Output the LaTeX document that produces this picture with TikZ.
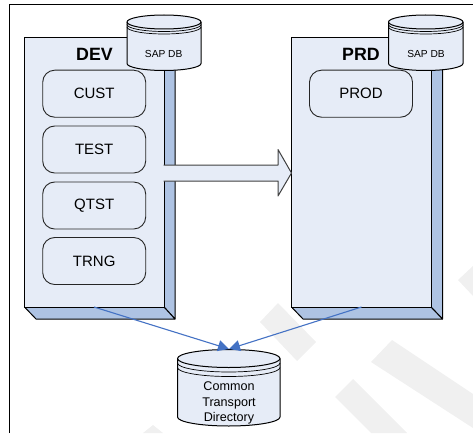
\documentclass[tikz,border=0pt]{standalone}
\usepackage{fontspec}
\setmainfont{Liberation Sans}
\definecolor{pale}{HTML}{E6ECF7}
\definecolor{side}{HTML}{AEC3E3}
\definecolor{link}{HTML}{4472C4}
\definecolor{wm}{HTML}{F0F0F0}
\usetikzlibrary{arrows.meta}
\tikzset{
  x=1pt,y=-1pt,
  edge/.style={draw=black,line width=1pt,line join=round},
  face/.style={edge,fill=pale},
  depth/.style={edge,fill=side},
  envbox/.style={draw=black!85,line width=0.9pt,fill=pale,rounded corners=12pt,minimum width=103pt,minimum height=47pt,inner sep=0pt,font=\fontsize{15}{17}\selectfont},
  title/.style={font=\bfseries\fontsize{17.8}{20}\selectfont,inner sep=0pt},
  dblabel/.style={font=\fontsize{10.2}{12}\selectfont,inner sep=0pt},
  translabel/.style={font=\fontsize{12.6}{15.5}\selectfont,align=center,inner sep=0pt},
  link/.style={draw=link,line width=1.1pt,-{Triangle[length=11pt,width=11pt]}},
}
% left, right, centre y of the top ellipse, y radius, bottom y, gap of the rims
\newcommand{\dbshape}[6]{%
  \path[face] (#1,#3) -- (#1,#5) arc[start angle=180,end angle=0,x radius={(#2-#1)/2},y radius=#4] -- (#2,#3) arc[start angle=0,end angle=-180,x radius={(#2-#1)/2},y radius=#4] -- cycle;
  \draw[edge] (#1,#3) arc[start angle=180,end angle=0,x radius={(#2-#1)/2},y radius=#4];
  \draw[edge,line width=0.7pt] (#1,#3+#6) arc[start angle=180,end angle=0,x radius={(#2-#1)/2},y radius=#4];
  \draw[edge,line width=0.7pt] (#1,#3+2*#6) arc[start angle=180,end angle=0,x radius={(#2-#1)/2},y radius=#4];
}
\begin{document}
\begin{tikzpicture}
\useasboundingbox (0,0) rectangle (473,433);
% watermark
\fill[wm] (260,322) -- (278,303) -- (316,342) -- (297,361) -- cycle;
\fill[wm] (371,362) -- (392,340) -- (473,394) -- (473,428) -- cycle;
\fill[wm] (335,397) -- (353,379) -- (407,433) -- (371,433) -- cycle;
\fill[wm] (458,280) -- (473,266) -- (473,296) -- cycle;
\fill[wm] (143,433) -- (153,425) -- (163,433) -- cycle;
% frame
\draw[black,line width=0.9pt] (9.5,433) -- (9.5,4.5) -- (473,4.5);
% DEV block
\path[depth] (164,38) -- (175,49) -- (175,319) -- (164,307) -- cycle;
\path[depth] (24.5,307) -- (164,307) -- (175,319) -- (36,319) -- cycle;
\path[face] (24.5,38) rectangle (164,307);
\coordinate (devout) at (94,307);
% PRD block
\path[depth] (431,38) -- (442.5,49) -- (442.5,319) -- (431,307) -- cycle;
\path[depth] (291.5,307) -- (431,307) -- (442.5,319) -- (303,319) -- cycle;
\path[face] (291.5,38) rectangle (431,307);
\coordinate (prdout) at (361.5,307);
% titles
\node[title] (dev) at (94.5,54) {DEV};
\node[title] (prd) at (361,54) {PRD};
% system boxes
\node[envbox] (cust) at (94.2,93.7) {CUST};
\node[envbox] (test) at (94.2,149.5) {TEST};
\node[envbox] (qtst) at (94.2,205.5) {QTST};
\node[envbox] (trng) at (94.2,261) {TRNG};
\node[envbox] (prod) at (361,93.7) {PROD};
% databases
\dbshape{127}{201}{22}{7}{63.5}{2.5}
\dbshape{388.5}{463}{22}{7}{63.5}{2.5}
\node[dblabel] (db1) at (163.7,54) {SAP DB};
\node[dblabel] (db2) at (426,54) {SAP DB};
% big arrow
\path[edge,fill=pale,draw=black!75] (163.5,165) -- (278,165) -- (278,149.5) -- (291.5,173) -- (278,196) -- (278,181) -- (163.5,181);
% transport directory
\dbshape{177.5}{280}{358.5}{9}{417}{4.5}
\node[translabel] (ctd) at (229,403.3) {Common\\Transport\\Directory};
\coordinate (ctdtop) at (229,349);
% links
\draw[link] (devout) -- (ctdtop);
\draw[link] (prdout) -- (ctdtop);
\end{tikzpicture}
\end{document}
